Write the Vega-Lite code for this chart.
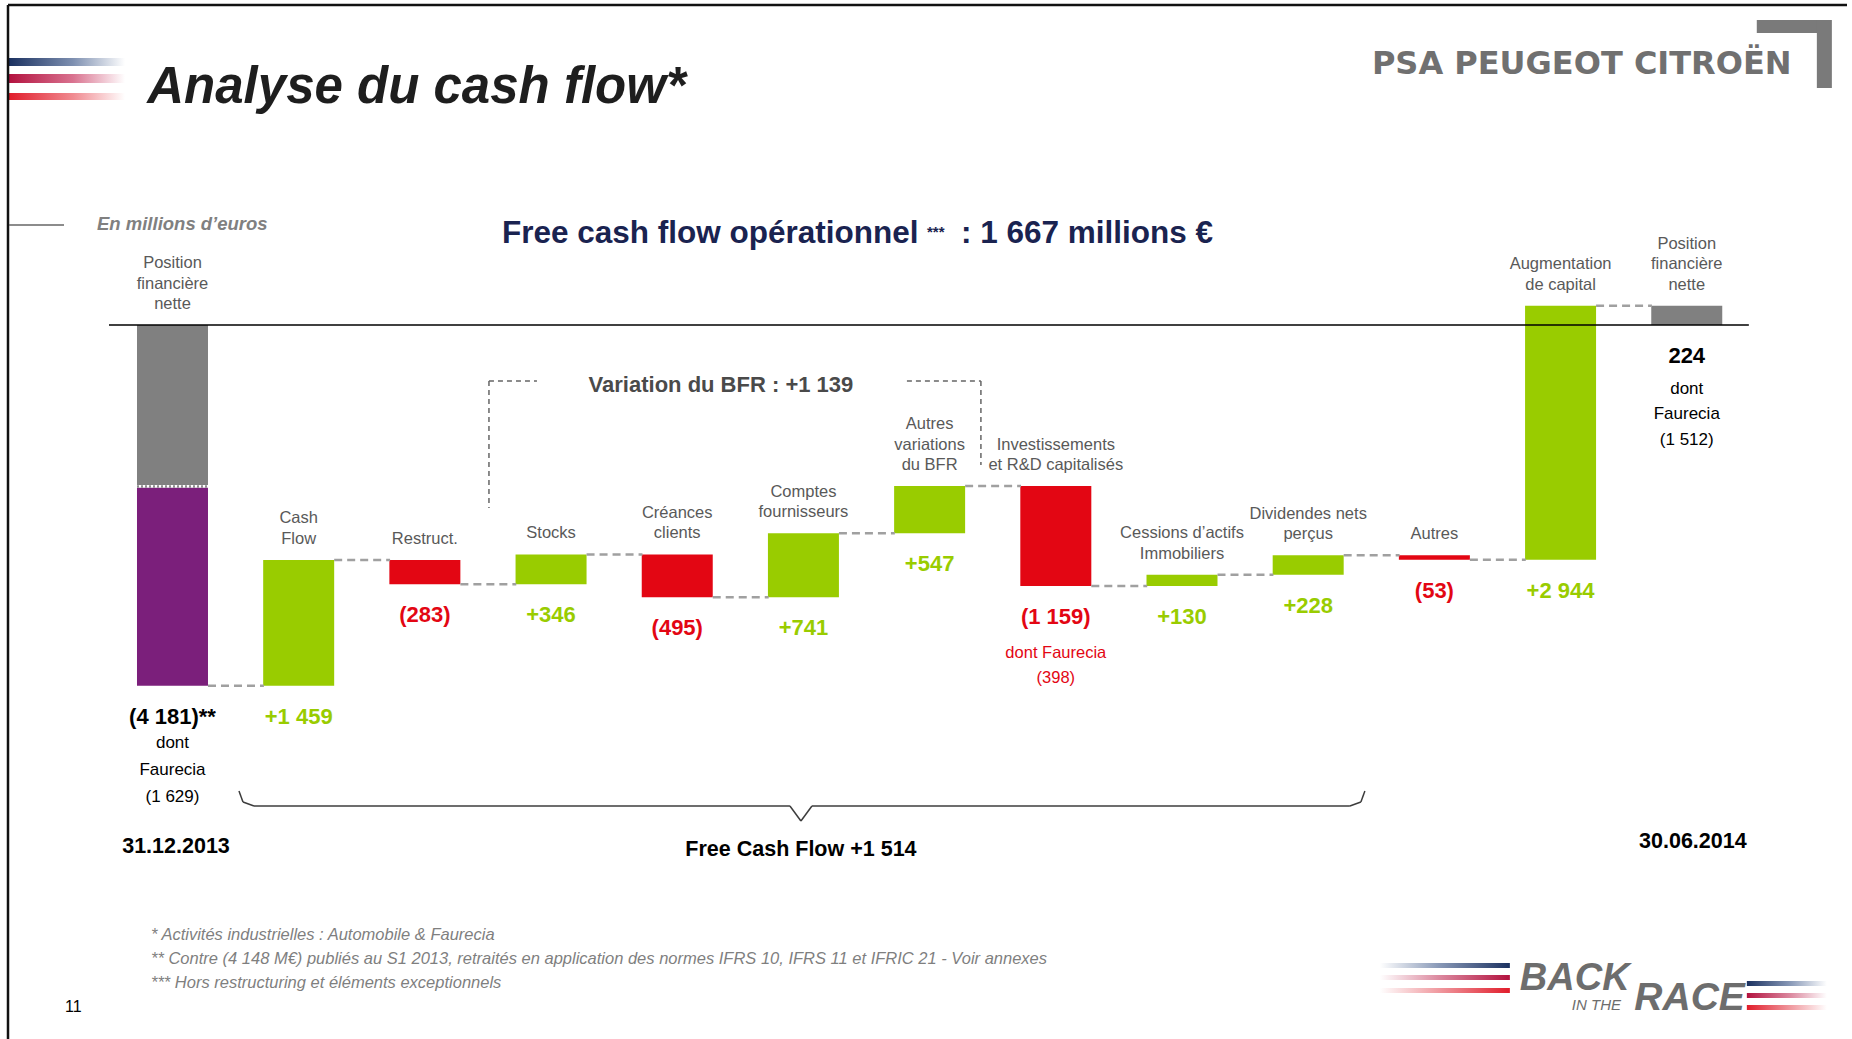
{
  "$schema": "https://vega.github.io/schema/vega-lite/v6.json",
  "width": 1852,
  "height": 1039,
  "padding": 0,
  "autosize": {"type": "none"},
  "background": "white",
  "config": {
    "view": {"stroke": null},
    "axis": {"disable": true},
    "legend": {"disable": true},
    "text": {"font": "Liberation Sans"}
  },
  "data": {"values": [{}]},
  "datasets": {
    "barres": [
      {"i": 0, "debut": 0, "fin": -1855, "kind": "gris"},
      {"i": 0, "debut": -1885, "fin": -4181, "kind": "violet"},
      {"i": 1, "debut": -4181, "fin": -2722, "kind": "hausse"},
      {"i": 2, "debut": -2722, "fin": -3005, "kind": "baisse"},
      {"i": 3, "debut": -3005, "fin": -2659, "kind": "hausse"},
      {"i": 4, "debut": -2659, "fin": -3154, "kind": "baisse"},
      {"i": 5, "debut": -3154, "fin": -2413, "kind": "hausse"},
      {"i": 6, "debut": -2413, "fin": -1866, "kind": "hausse"},
      {"i": 7, "debut": -1866, "fin": -3025, "kind": "baisse"},
      {"i": 8, "debut": -3025, "fin": -2895, "kind": "hausse"},
      {"i": 9, "debut": -2895, "fin": -2667, "kind": "hausse"},
      {"i": 10, "debut": -2667, "fin": -2720, "kind": "baisse"},
      {"i": 11, "debut": -2720, "fin": 224, "kind": "hausse"},
      {"i": 12, "debut": 0, "fin": 224, "kind": "gris"}
    ],
    "etapes": [
      {"i": 0, "cat": "Position\nfinancière\nnette", "valeur": "(4 181)**", "kind": "total", "haut": 0, "bas": -4181, "fin": -4181},
      {"i": 1, "cat": "Cash\nFlow", "valeur": "+1 459", "kind": "hausse", "haut": -2722, "bas": -4181, "fin": -2722},
      {"i": 2, "cat": "Restruct.", "valeur": "(283)", "kind": "baisse", "haut": -2722, "bas": -3005, "fin": -3005},
      {"i": 3, "cat": "Stocks", "valeur": "+346", "kind": "hausse", "haut": -2659, "bas": -3005, "fin": -2659},
      {"i": 4, "cat": "Créances\nclients", "valeur": "(495)", "kind": "baisse", "haut": -2659, "bas": -3154, "fin": -3154},
      {"i": 5, "cat": "Comptes\nfournisseurs", "valeur": "+741", "kind": "hausse", "haut": -2413, "bas": -3154, "fin": -2413},
      {"i": 6, "cat": "Autres\nvariations\ndu BFR", "valeur": "+547", "kind": "hausse", "haut": -1866, "bas": -2413, "fin": -1866},
      {"i": 7, "cat": "Investissements\net R&D capitalisés", "valeur": "(1 159)", "kind": "baisse", "haut": -1866, "bas": -3025, "fin": -3025},
      {"i": 8, "cat": "Cessions d’actifs\nImmobiliers", "valeur": "+130", "kind": "hausse", "haut": -2895, "bas": -3025, "fin": -2895},
      {"i": 9, "cat": "Dividendes nets\nperçus", "valeur": "+228", "kind": "hausse", "haut": -2667, "bas": -2895, "fin": -2667},
      {"i": 10, "cat": "Autres", "valeur": "(53)", "kind": "baisse", "haut": -2667, "bas": -2720, "fin": -2720},
      {"i": 11, "cat": "Augmentation\nde capital", "valeur": "+2 944", "kind": "hausse", "haut": 224, "bas": -2720, "fin": 224},
      {"i": 12, "cat": "Position\nfinancière\nnette", "valeur": "224", "kind": "total", "haut": 224, "bas": 0, "fin": 224}
    ]
  },
  "layer": [
    {
      "data": {"name": "barres"},
      "mark": {"type": "bar", "width": 71},
      "encoding": {
        "x": {"field": "i", "type": "quantitative", "scale": {"domain": [-1.3273, 13.2699], "nice": false, "zero": false}, "axis": null},
        "y": {"field": "debut", "type": "quantitative", "scale": {"domain": [-8273, 3766], "nice": false, "zero": false}, "axis": null},
        "y2": {"field": "fin"},
        "color": {"field": "kind", "type": "nominal", "scale": {"domain": ["gris", "violet", "hausse", "baisse", "total"], "range": ["#808080", "#7b1f7b", "#99cc00", "#e30613", "#000000"]}, "legend": null}
      }
    },
    {
      "mark": {"type": "rect", "fill": {"gradient": "linear", "x1": 0, "y1": 0, "x2": 1, "y2": 0, "stops": [{"offset": 0, "color": "#1b3160"}, {"offset": 0.55, "color": "#7d8fb0"}, {"offset": 1, "color": "#ffffff"}]}},
      "encoding": {"x": {"datum": -1.2956}, "x2": {"datum": -0.3764}, "y": {"datum": 3094}, "y2": {"datum": 3001}}
    },
    {
      "mark": {"type": "rect", "fill": {"gradient": "linear", "x1": 0, "y1": 0, "x2": 1, "y2": 0, "stops": [{"offset": 0, "color": "#b3123f"}, {"offset": 0.55, "color": "#d9728f"}, {"offset": 1, "color": "#ffffff"}]}},
      "encoding": {"x": {"datum": -1.2956}, "x2": {"datum": -0.3764}, "y": {"datum": 2909}, "y2": {"datum": 2805}}
    },
    {
      "mark": {"type": "rect", "fill": {"gradient": "linear", "x1": 0, "y1": 0, "x2": 1, "y2": 0, "stops": [{"offset": 0, "color": "#e11d2b"}, {"offset": 0.55, "color": "#f08a90"}, {"offset": 1, "color": "#ffffff"}]}},
      "encoding": {"x": {"datum": -1.2956}, "x2": {"datum": -0.3764}, "y": {"datum": 2688}, "y2": {"datum": 2607}}
    },
    {
      "mark": {"type": "rule", "stroke": "#111111", "strokeWidth": 2.5},
      "encoding": {"x": {"datum": -1.3035}, "x2": {"datum": 13.2699}, "y": {"datum": 3708}}
    },
    {
      "mark": {"type": "rule", "stroke": "#111111", "strokeWidth": 2.5},
      "encoding": {"x": {"datum": -1.3035}, "y": {"datum": 3708}, "y2": {"datum": -8273}}
    },
    {
      "mark": {"type": "text", "text": "Analyse du cash flow*", "align": "left", "baseline": "alphabetic", "fontSize": 51, "fontWeight": "bold", "fontStyle": "italic", "color": "#1e1e1e"},
      "encoding": {"x": {"datum": -0.2}, "y": {"datum": 2573}}
    },
    {
      "mark": {"type": "text", "text": "PSA PEUGEOT CITROËN", "align": "left", "baseline": "alphabetic", "fontSize": 32, "fontWeight": "bold", "font": "DejaVu Sans", "color": "#707070"},
      "encoding": {"x": {"datum": 9.5048}, "y": {"datum": 2909}}
    },
    {
      "mark": {"type": "rect", "fill": "#7a7a7a"},
      "encoding": {"x": {"datum": 12.555}, "x2": {"datum": 13.094}, "y": {"datum": 3534}, "y2": {"datum": 3384}}
    },
    {
      "mark": {"type": "rect", "fill": "#7a7a7a"},
      "encoding": {"x": {"datum": 13.031}, "x2": {"datum": 13.15}, "y": {"datum": 3534}, "y2": {"datum": 2746}}
    },
    {
      "mark": {"type": "text", "text": "En millions d’euros", "align": "left", "baseline": "middle", "fontSize": 18.5, "fontWeight": "bold", "fontStyle": "italic", "color": "#808080"},
      "encoding": {"x": {"datum": -0.5983}, "y": {"datum": 1170}}
    },
    {
      "mark": {"type": "rule", "stroke": "#666666", "strokeWidth": 1.5},
      "encoding": {"x": {"datum": -1.2956}, "x2": {"datum": -0.8597}, "y": {"datum": 1159}}
    },
    {
      "mark": {"type": "text", "text": "Free cash flow opérationnel", "align": "left", "baseline": "middle", "fontSize": 31.5, "fontWeight": "bold", "color": "#1a2350"},
      "encoding": {"x": {"datum": 2.6109}, "y": {"datum": 1055}}
    },
    {
      "mark": {"type": "text", "text": "***", "align": "left", "baseline": "middle", "fontSize": 15, "fontWeight": "bold", "color": "#1a2350"},
      "encoding": {"x": {"datum": 5.979}, "y": {"datum": 1078}}
    },
    {
      "mark": {"type": "text", "text": ": 1 667 millions €", "align": "left", "baseline": "middle", "fontSize": 31.5, "fontWeight": "bold", "color": "#1a2350"},
      "encoding": {"x": {"datum": 6.248}, "y": {"datum": 1055}}
    },
    {
      "mark": {"type": "rule", "stroke": "#000000", "strokeWidth": 1.5},
      "encoding": {"x": {"datum": -0.5032}, "x2": {"datum": 12.4921}, "y": {"datum": 0}}
    },
    {
      "mark": {"type": "rule", "stroke": "#666666", "strokeWidth": 1.5, "strokeDash": [5, 4]},
      "encoding": {"x": {"datum": 2.5079}, "y": {"datum": -649}, "y2": {"datum": -2120}}
    },
    {
      "mark": {"type": "rule", "stroke": "#666666", "strokeWidth": 1.5, "strokeDash": [5, 4]},
      "encoding": {"x": {"datum": 2.5079}, "x2": {"datum": 2.8883}, "y": {"datum": -649}}
    },
    {
      "mark": {"type": "rule", "stroke": "#666666", "strokeWidth": 1.5, "strokeDash": [5, 4]},
      "encoding": {"x": {"datum": 5.8201}, "x2": {"datum": 6.4065}, "y": {"datum": -649}}
    },
    {
      "mark": {"type": "rule", "stroke": "#666666", "strokeWidth": 1.5, "strokeDash": [5, 4]},
      "encoding": {"x": {"datum": 6.4065}, "y": {"datum": -649}, "y2": {"datum": -1622}}
    },
    {
      "mark": {"type": "text", "text": "Variation du BFR : +1 139", "align": "center", "baseline": "middle", "fontSize": 22, "fontWeight": "bold", "color": "#4a4a4a"},
      "encoding": {"x": {"datum": 4.3463}, "y": {"datum": -695}}
    },
    {
      "data": {"name": "etapes"},
      "transform": [{"filter": "datum.i < 12"}],
      "mark": {"type": "rule", "stroke": "#a0a0a0", "strokeWidth": 2.5, "strokeDash": [8, 5], "xOffset": 35.5, "x2Offset": 91.4},
      "encoding": {
        "x": {"field": "i", "type": "quantitative"},
        "x2": {"field": "i"},
        "y": {"field": "fin", "type": "quantitative"}
      }
    },
    {
      "mark": {"type": "rule", "stroke": "#8c8c8c", "strokeWidth": 2.5, "strokeDash": [2, 2], "xOffset": -35.5, "x2Offset": 35.5},
      "encoding": {"x": {"datum": 0}, "x2": {"datum": 0}, "y": {"datum": -1870}}
    },
    {
      "data": {"name": "etapes"},
      "transform": [{"filter": "length(split(datum.cat, '\\n')) == 1"}],
      "mark": {"type": "text", "align": "center", "baseline": "bottom", "dy": -13, "fontSize": 16.5, "lineHeight": 20.5, "lineBreak": "\n", "color": "#595959"},
      "encoding": {
        "x": {"field": "i", "type": "quantitative"},
        "y": {"field": "haut", "type": "quantitative"},
        "text": {"field": "cat"}
      }
    },
    {
      "data": {"name": "etapes"},
      "transform": [{"filter": "length(split(datum.cat, '\\n')) == 2"}],
      "mark": {"type": "text", "align": "center", "baseline": "bottom", "dy": -33.5, "fontSize": 16.5, "lineHeight": 20.5, "lineBreak": "\n", "color": "#595959"},
      "encoding": {
        "x": {"field": "i", "type": "quantitative"},
        "y": {"field": "haut", "type": "quantitative"},
        "text": {"field": "cat"}
      }
    },
    {
      "data": {"name": "etapes"},
      "transform": [{"filter": "length(split(datum.cat, '\\n')) == 3"}],
      "mark": {"type": "text", "align": "center", "baseline": "bottom", "dy": -54, "fontSize": 16.5, "lineHeight": 20.5, "lineBreak": "\n", "color": "#595959"},
      "encoding": {
        "x": {"field": "i", "type": "quantitative"},
        "y": {"field": "haut", "type": "quantitative"},
        "text": {"field": "cat"}
      }
    },
    {
      "data": {"name": "etapes"},
      "mark": {"type": "text", "align": "center", "baseline": "middle", "dy": 31, "fontSize": 22, "fontWeight": "bold"},
      "encoding": {
        "x": {"field": "i", "type": "quantitative"},
        "y": {"field": "bas", "type": "quantitative"},
        "text": {"field": "valeur"},
        "color": {"field": "kind", "type": "nominal", "legend": null}
      }
    },
    {
      "mark": {"type": "text", "text": "dont\nFaurecia\n(1 629)", "lineBreak": "\n", "lineHeight": 27, "align": "center", "baseline": "top", "fontSize": 17, "color": "#000000"},
      "encoding": {"x": {"datum": 0}, "y": {"datum": -4750}}
    },
    {
      "mark": {"type": "text", "text": "dont Faurecia\n(398)", "lineBreak": "\n", "lineHeight": 25, "align": "center", "baseline": "top", "fontSize": 16.5, "color": "#e30613"},
      "encoding": {"x": {"datum": 7}, "y": {"datum": -3708}}
    },
    {
      "mark": {"type": "text", "text": "dont\nFaurecia\n(1 512)", "lineBreak": "\n", "lineHeight": 25.5, "align": "center", "baseline": "top", "fontSize": 17, "color": "#000000"},
      "encoding": {"x": {"datum": 12}, "y": {"datum": -643}}
    },
    {
      "mark": {"type": "rule", "stroke": "#3c3c3c", "strokeWidth": 1.5},
      "encoding": {"x": {"datum": 0.5269}, "x2": {"datum": 0.5586}, "y": {"datum": -5399}, "y2": {"datum": -5527}}
    },
    {
      "mark": {"type": "rule", "stroke": "#3c3c3c", "strokeWidth": 1.5},
      "encoding": {"x": {"datum": 0.5586}, "x2": {"datum": 0.6458}, "y": {"datum": -5527}, "y2": {"datum": -5573}}
    },
    {
      "mark": {"type": "rule", "stroke": "#3c3c3c", "strokeWidth": 1.5},
      "encoding": {"x": {"datum": 0.6458}, "x2": {"datum": 4.8931}, "y": {"datum": -5573}}
    },
    {
      "mark": {"type": "rule", "stroke": "#3c3c3c", "strokeWidth": 1.5},
      "encoding": {"x": {"datum": 4.8931}, "x2": {"datum": 4.9802}, "y": {"datum": -5573}, "y2": {"datum": -5747}}
    },
    {
      "mark": {"type": "rule", "stroke": "#3c3c3c", "strokeWidth": 1.5},
      "encoding": {"x": {"datum": 4.9802}, "x2": {"datum": 5.0674}, "y": {"datum": -5747}, "y2": {"datum": -5573}}
    },
    {
      "mark": {"type": "rule", "stroke": "#3c3c3c", "strokeWidth": 1.5},
      "encoding": {"x": {"datum": 5.0674}, "x2": {"datum": 9.3304}, "y": {"datum": -5573}}
    },
    {
      "mark": {"type": "rule", "stroke": "#3c3c3c", "strokeWidth": 1.5},
      "encoding": {"x": {"datum": 9.3304}, "x2": {"datum": 9.4176}, "y": {"datum": -5573}, "y2": {"datum": -5527}}
    },
    {
      "mark": {"type": "rule", "stroke": "#3c3c3c", "strokeWidth": 1.5},
      "encoding": {"x": {"datum": 9.4176}, "x2": {"datum": 9.4493}, "y": {"datum": -5527}, "y2": {"datum": -5399}}
    },
    {
      "mark": {"type": "text", "text": "31.12.2013", "align": "center", "baseline": "middle", "fontSize": 21.5, "fontWeight": "bold", "color": "#000000"},
      "encoding": {"x": {"datum": 0.0277}, "y": {"datum": -6050}}
    },
    {
      "mark": {"type": "text", "text": "Free Cash Flow +1 514", "align": "center", "baseline": "middle", "fontSize": 21.5, "fontWeight": "bold", "color": "#000000"},
      "encoding": {"x": {"datum": 4.9802}, "y": {"datum": -6080}}
    },
    {
      "mark": {"type": "text", "text": "30.06.2014", "align": "center", "baseline": "middle", "fontSize": 21.5, "fontWeight": "bold", "color": "#000000"},
      "encoding": {"x": {"datum": 12.0484}, "y": {"datum": -5995}}
    },
    {
      "mark": {"type": "text", "text": "*  Activités industrielles : Automobile & Faurecia\n** Contre (4 148 M€) publiés au S1 2013, retraités en application des normes IFRS 10, IFRS 11 et IFRIC 21 - Voir annexes\n***  Hors restructuring et éléments exceptionnels", "lineBreak": "\n", "lineHeight": 24, "align": "left", "baseline": "top", "fontSize": 16.5, "fontStyle": "italic", "color": "#7f7f7f"},
      "encoding": {"x": {"datum": -0.1704}, "y": {"datum": -6980}}
    },
    {
      "mark": {"type": "text", "text": "11", "align": "left", "baseline": "middle", "fontSize": 16, "color": "#000000"},
      "encoding": {"x": {"datum": -0.8518}, "y": {"datum": -7902}}
    },
    {
      "mark": {"type": "rect", "fill": {"gradient": "linear", "x1": 0, "y1": 0, "x2": 1, "y2": 0, "stops": [{"offset": 0, "color": "#ffffff"}, {"offset": 0.45, "color": "#8a9ab8"}, {"offset": 1, "color": "#1b3160"}]}},
      "encoding": {"x": {"datum": 9.5681}, "x2": {"datum": 10.5983}, "y": {"datum": -7392}, "y2": {"datum": -7450}}
    },
    {
      "mark": {"type": "rect", "fill": {"gradient": "linear", "x1": 0, "y1": 0, "x2": 1, "y2": 0, "stops": [{"offset": 0, "color": "#ffffff"}, {"offset": 0.45, "color": "#dc8aa0"}, {"offset": 1, "color": "#b3123f"}]}},
      "encoding": {"x": {"datum": 9.5681}, "x2": {"datum": 10.5983}, "y": {"datum": -7531}, "y2": {"datum": -7589}}
    },
    {
      "mark": {"type": "rect", "fill": {"gradient": "linear", "x1": 0, "y1": 0, "x2": 1, "y2": 0, "stops": [{"offset": 0, "color": "#ffffff"}, {"offset": 0.45, "color": "#f09aa0"}, {"offset": 1, "color": "#e11d2b"}]}},
      "encoding": {"x": {"datum": 9.5681}, "x2": {"datum": 10.5983}, "y": {"datum": -7682}, "y2": {"datum": -7740}}
    },
    {
      "mark": {"type": "rect", "fill": {"gradient": "linear", "x1": 0, "y1": 0, "x2": 1, "y2": 0, "stops": [{"offset": 0, "color": "#1b3160"}, {"offset": 0.55, "color": "#8a9ab8"}, {"offset": 1, "color": "#ffffff"}]}},
      "encoding": {"x": {"datum": 12.4762}, "x2": {"datum": 13.1102}, "y": {"datum": -7601}, "y2": {"datum": -7659}}
    },
    {
      "mark": {"type": "rect", "fill": {"gradient": "linear", "x1": 0, "y1": 0, "x2": 1, "y2": 0, "stops": [{"offset": 0, "color": "#b3123f"}, {"offset": 0.55, "color": "#dc8aa0"}, {"offset": 1, "color": "#ffffff"}]}},
      "encoding": {"x": {"datum": 12.4762}, "x2": {"datum": 13.1102}, "y": {"datum": -7740}, "y2": {"datum": -7798}}
    },
    {
      "mark": {"type": "rect", "fill": {"gradient": "linear", "x1": 0, "y1": 0, "x2": 1, "y2": 0, "stops": [{"offset": 0, "color": "#e11d2b"}, {"offset": 0.55, "color": "#f09aa0"}, {"offset": 1, "color": "#ffffff"}]}},
      "encoding": {"x": {"datum": 12.4762}, "x2": {"datum": 13.1102}, "y": {"datum": -7879}, "y2": {"datum": -7937}}
    },
    {
      "mark": {"type": "text", "text": "BACK", "align": "left", "baseline": "alphabetic", "fontSize": 38, "fontWeight": "bold", "fontStyle": "italic", "font": "Liberation Sans", "color": "#6d6d6d"},
      "encoding": {"x": {"datum": 10.6774}, "y": {"datum": -7705}}
    },
    {
      "mark": {"type": "text", "text": "RACE", "align": "left", "baseline": "alphabetic", "fontSize": 39, "fontWeight": "bold", "fontStyle": "italic", "font": "Liberation Sans", "color": "#6d6d6d"},
      "encoding": {"x": {"datum": 11.5846}, "y": {"datum": -7937}}
    },
    {
      "mark": {"type": "text", "text": "IN THE", "align": "left", "baseline": "alphabetic", "fontSize": 15, "fontStyle": "italic", "font": "Liberation Sans", "color": "#6d6d6d"},
      "encoding": {"x": {"datum": 11.0895}, "y": {"datum": -7937}}
    }
  ]
}
